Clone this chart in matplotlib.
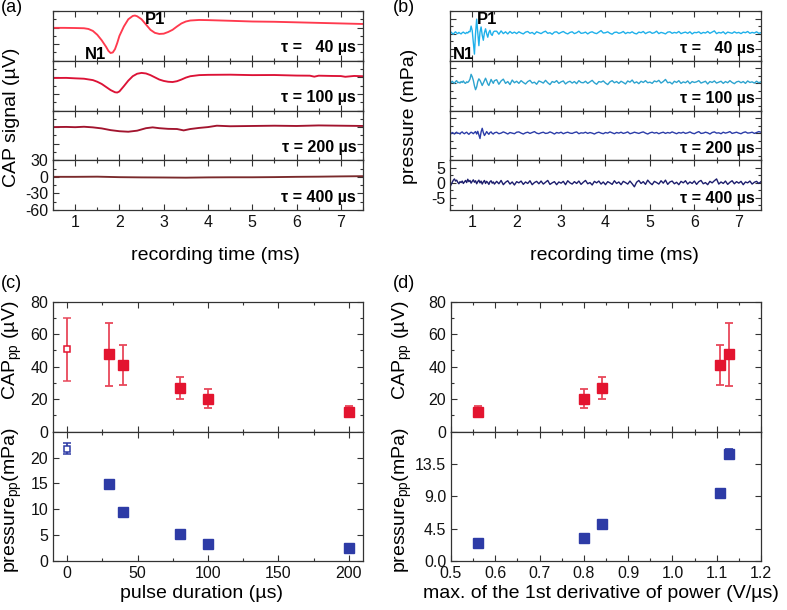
import numpy as np
import matplotlib
matplotlib.use("Agg")
import matplotlib.pyplot as plt
from matplotlib.ticker import MultipleLocator, FormatStrFormatter

plt.rcParams["font.family"] = ["Liberation Sans", "DejaVu Sans"]
plt.rcParams["mathtext.default"] = "regular"
plt.rcParams["axes.unicode_minus"] = False

# ---- (a) CAP traces (µV) ----
a40_t = [0.5, 0.75, 1.0, 1.2, 1.3, 1.4, 1.5, 1.6, 1.7, 1.75, 1.8, 1.85, 1.9, 1.95, 2.0,
         2.1, 2.2, 2.3, 2.35, 2.4, 2.5, 2.6, 2.7, 2.8, 2.9, 3.0, 3.1, 3.2, 3.3, 3.4, 3.5,
         3.6, 3.8, 4.0, 4.5, 5.0, 5.5, 6.0, 6.5, 7.0, 7.5]
a40_v = [-0.5, -0.5, -0.8, -1.2, -2.5, -6, -13, -23, -35, -42, -46, -45, -39, -28, -15,
         2, 15, 21, 21.8, 20.5, 15, 5.5, -4, -9.5, -11.5, -11, -8, -4, 2, 7.5, 11,
         12.8, 13.8, 13.5, 12.3, 11, 10.5, 9.5, 8.5, 7.5, 6.5]

a100_t = [0.5, 0.8, 1.0, 1.2, 1.4, 1.5, 1.6, 1.7, 1.8, 1.9, 1.95, 2.0, 2.1, 2.2, 2.3, 2.4,
          2.5, 2.6, 2.7, 2.8, 2.9, 3.0, 3.1, 3.2, 3.3, 3.4, 3.5, 3.6, 3.8, 4.0, 4.5, 5.0,
          5.5, 6.0, 6.3, 6.4, 6.5, 6.8, 7.0, 7.1, 7.3, 7.5]
a100_v = [-1.2, -1.0, -1.8, -2.5, -5, -8, -12, -17.5, -23, -27, -27.5, -25.5, -16, -6, 2, 6.5,
          8, 7, 4, 0, -4, -6.5, -8, -8.5, -7, -4, -0.5, 2, 4, 4.5, 4.8, 4.0,
          4.2, 3.2, 3.0, 1.2, 3.0, 2.5, 2.3, 1.0, 2.5, 2.0]

a200_t = [0.5, 0.8, 1.0, 1.2, 1.4, 1.6, 1.8, 2.0, 2.2, 2.4, 2.6, 2.75, 2.9, 3.1, 3.3, 3.45,
          3.6, 3.8, 4.0, 4.2, 4.5, 5.0, 5.5, 6.0, 6.5, 7.0, 7.5]
a200_v = [0, 0.3, -0.2, 0.6, -0.5, -2.4, -5.5, -7.5, -8.4, -6.5, -2, -0.5, -2, -3.2, -3.5, -6,
          -3.5, -1.5, 0, 2.5, 1.5, 2.0, 2.5, 2.0, 3.0, 2.5, 2.0]

a400_t = [0.5, 1.0, 1.5, 2.0, 2.5, 3.0, 3.5, 4.0, 4.5, 5.0, 5.5, 6.0, 6.5, 7.0, 7.5]
a400_v = [0, 0, 0.3, -0.6, -1.0, -1.2, -1.5, -1.0, -0.8, -0.8, -0.5, 0, 0.3, 0.8, 1.2]

# ---- (b) pressure traces (mPa) ----
# samples every 0.025 ms from 0.5 to 1.5 ms, then every 0.05 ms up to 7.5 ms
t_fine = np.round(np.arange(0.5, 1.5001, 0.025), 3)
t_coarse = np.round(np.arange(1.55, 7.5001, 0.05), 3)
b_t = np.concatenate([t_fine, t_coarse])

b40_v = [0.2, 0.5, 0.1, -0.2, 0.3, 0.6, 0.2, 0.0, 0.4, 0.1,
         -0.1, 0.3, 0.5, 0.2, 0.0, 0.4, 0.2, 0.7, 0.6, 2.5,
         1.0, -3.0, -6.8, 0.0, 4.8, 0.5, -4.0, 0.5, 2.2, -0.5,
         -2.2, 0.3, 1.6, 0.0, -1.2, 0.4, 1.1, -0.2, -0.6, 0.5,
         0.8,
         0.8, -0.2, 0.9, 0.0, 0.6, -0.1, 0.7, 0.1, 0.5, 0.0,
         0.6, 0.2, -0.1, 0.5, 0.7, 0.1, 0.4, -0.2, 0.6, 0.3,
         0.0, 0.5, 0.8, 0.1, 0.3, -0.2, 0.5, 0.6, 0.0, 0.4,
         0.7, 0.2, -0.1, 0.4, 0.6, 0.0, 0.3, 0.8, 0.1, 0.2,
         0.5, -0.1, 0.4, 0.6, 0.2, 0.0, 0.5, 1.0, 0.2, 0.3,
         0.6, 0.1, -0.2, 0.4, 0.5, 0.1, 0.3, 0.7, 0.0, 0.4,
         0.2, 0.6, 0.1, -0.1, 0.5, 0.3, 0.7, 0.0, 0.4, 0.6,
         0.1, 0.3, 0.8, 0.0, 0.4, 0.2, -0.1, 0.5, 0.6, 0.1,
         0.4, 0.2, 0.7, 0.0, 0.3, 0.5, 0.1, 0.6, -0.1, 0.4,
         0.3, 0.6, 0.0, 0.4, 0.2, 0.7, 0.1, 0.5, 0.9, 0.0,
         0.4, 0.2, 0.6, -0.1, 0.5, 0.3, 0.1, 0.6, 0.2, 0.4,
         0.0, 0.5, 0.3, 0.7, 0.1, 0.4, 0.2, 0.6, 0.1, 0.3]

b100_v = [0.5, 0.2, 0.7, 0.3, 0.0, 0.6, 0.9, 0.2, 0.4, 0.1,
          0.6, 0.3, 0.8, 0.2, 0.0, 0.5, 0.3, 0.7, 1.4, 3.0,
          2.2, 1.0, -0.8, -2.1, -1.2, 0.6, 1.5, 1.0, 0.2, -0.7,
          0.1, 0.9, 1.7, 0.8, -0.2, -0.7, 0.3, 1.3, 0.6, 0.0,
          0.9,
          1.2, -0.3, 0.8, 1.4, 0.0, 0.6, -0.4, 1.1, 0.2, 0.7,
          0.0, 0.9, 0.3, -0.2, 0.6, 1.0, 0.1, 0.4, -0.3, 0.8,
          0.5, 0.1, 1.0, 0.2, -0.4, 0.6, 0.3, 0.9, 0.0, 0.5,
          0.8, -0.2, 0.4, 0.7, 0.1, 0.6, -0.1, 0.9, 0.3, 0.2,
          0.7, 0.0, 0.5, 1.0, 0.2, -0.3, 0.6, 0.4, 0.8, 0.1,
          -0.4, 0.5, 0.9, 0.2, 0.6, 0.0, 0.7, 0.3, -0.2, 0.8,
          0.4, 1.1, 0.1, 0.5, -0.1, 0.7, 0.3, 0.9, 0.2, 0.4,
          0.0, 0.8, 0.5, 1.0, 0.1, 0.6, 1.3, 0.2, 0.4, -0.2,
          0.7, 0.3, 0.9, 0.0, 0.5, 0.2, 0.8, -0.1, 0.6, 0.3,
          0.5, 0.9, 0.1, 0.4, 0.7, -0.2, 0.6, 0.3, 0.8, 0.1,
          0.4, 0.7, 0.0, 0.6, 0.2, 0.9, 0.3, -0.1, 0.5, 0.7,
          0.2, 0.6, 0.0, 0.8, 0.3, 0.5, 0.1, 0.7, 0.2, 0.5]

b200_v = [0.0, -0.2, 0.2, 0.0, -0.3, 0.1, 0.3, -0.1, 0.0, -0.3,
          0.2, 0.4, 0.0, -0.2, 0.1, 0.3, -0.1, -0.4, 0.0, 0.3,
          0.1, -0.2, 0.2, 0.5, -0.3, 0.6, -0.6, -1.8, 0.4, 1.6,
          0.2, -0.8, -0.2, 0.5, 0.0, -0.4, 0.2, 0.4, -0.1, -0.3,
          0.1,
          0.3, -0.2, 0.0, 0.4, 0.1, -0.3, 0.2, 0.0, -0.2, 0.3,
          0.4, 0.0, -0.3, 0.1, 0.3, -0.1, 0.2, 0.5, 0.0, -0.2,
          0.1, 0.3, -0.1, 0.0, 0.4, 0.1, -0.3, 0.2, 0.0, 0.3,
          -0.2, 0.1, 0.3, 0.0, -0.1, 0.2, 0.4, -0.2, 0.1, 0.0,
          0.3, -0.1, 0.2, 0.0, -0.3, 0.1, 0.3, 0.0, -0.2, 0.2,
          0.0, 0.4, 0.1, -0.2, 0.2, 0.0, 0.3, -0.1, 0.1, 0.4,
          -0.2, 0.0, 0.3, 0.1, -0.1, 0.2, 0.4, 0.0, -0.3, 0.1,
          0.3, 0.0, 0.2, -0.2, 0.1, 0.3, -0.1, 0.2, 0.0, 0.4,
          0.1, -0.2, 0.2, 0.0, 0.3, -0.1, 0.1, 0.4, 0.0, -0.2,
          0.2, 0.5, -0.1, 0.0, 0.3, 0.1, -0.3, 0.2, 0.4, 0.0,
          0.1, -0.2, 0.3, 0.0, 0.2, 0.5, -0.1, 0.1, 0.3, 0.0,
          -0.2, 0.2, 0.4, 0.0, 0.1, 0.3, -0.1, 0.2, 0.5, 0.3]

b400_v = [-1.3, -0.6, 0.2, 0.9, 1.3, 0.6, 0.9, 0.2, -0.3, 0.4,
          0.1, 0.6, -0.2, 0.3, 0.8, 0.1, 1.2, 0.4, 0.8, -0.1,
          0.5, 1.0, 0.2, 0.7, -0.3, 0.4, 0.9, 0.0, 0.6, -0.4,
          0.3, 0.8, -0.2, 0.5, 0.1, -0.5, 0.4, 0.7, -0.1, 0.3,
          -0.4,
          0.5, -0.3, 0.8, -0.6, 0.2, 0.7, -0.4, 0.3, -0.7, 0.4,
          0.0, 0.6, -0.5, 0.3, -0.2, 0.7, -0.6, 0.1, 0.5, -0.3,
          0.6, -0.4, 0.2, 0.8, -0.5, 0.0, 0.4, -0.6, 0.3, -0.1,
          0.5, -0.6, 0.7, 0.0, -0.4, 0.4, -0.2, 0.6, -0.5, 0.2,
          0.8, -0.3, 0.1, -0.7, 0.5, 0.0, 0.6, -0.4, 0.3, -0.6,
          0.4, 0.0, -0.5, 0.7, -0.2, 0.3, -0.6, 0.5, 0.1, -0.4,
          0.6, -0.3, -1.3, 0.2, 0.8, -0.2, 0.4, -0.5, 0.9, 0.0,
          -0.6, 0.5, 0.1, -0.4, 0.7, -0.1, 0.9, -0.5, 0.3, 0.6,
          -0.3, 0.2, -0.6, 0.5, 0.0, 0.7, -0.4, 0.3, -0.2, 0.6,
          -0.5, 0.4, 0.8, -0.3, 0.1, -0.6, 0.5, 0.0, 0.7, 1.3,
          -0.4, 0.3, -0.2, 0.6, -0.5, 0.2, 0.7, -0.3, 0.4, -0.1,
          0.5, -0.6, 0.3, 0.0, 0.6, -0.4, 0.2, 0.5, -0.2, 0.4]

tau_labels = ["τ =   40 µs", "τ = 100 µs", "τ = 200 µs", "τ = 400 µs"]

# ---- (c)/(d) peak-to-peak values ----
pulse_us = [30, 40, 80, 100, 200]
cap_pp = [47.7, 41.0, 26.6, 20.1, 12.3]
cap_lo = [28.3, 28.9, 19.9, 14.3, 9.0]
cap_hi = [67.2, 53.2, 33.8, 26.0, 15.6]
press_pp = [14.95, 9.4, 5.15, 3.24, 2.5]
press_err = [0.6, 0.3, 0.3, 0.2, 0.2]
deriv_max = [1.128, 1.107, 0.84, 0.80, 0.56]
# reference point at 0 µs (open symbols)
ref_us = [0]
ref_cap = [50.8]
ref_cap_lo = [31.5]
ref_cap_hi = [70.2]
ref_press = [21.7]
ref_press_err = [1.1]

RED = "#e3142f"
RED_ERR = "#e8485a"
BLUE = "#2d3ba6"
a_colors = ["#ff3a4e", "#dc1236", "#a2142e", "#7a2a2c"]
b_colors = ["#1eb0ea", "#2ca3cf", "#2b3ca8", "#1c1d6c"]

W, H = 787, 610
fig = plt.figure(figsize=(W / 100, H / 100), dpi=100)


def box(l, t, r, b):
    return [l / W, 1 - b / H, (r - l) / W, (b - t) / H]


def style(ax):
    ax.tick_params(which="both", direction="in", top=True, right=True,
                   labelsize=11.5, width=0.8, color="#333333", labelcolor="#111111")
    ax.tick_params(which="major", length=4)
    ax.tick_params(which="minor", length=2.5)
    for s in ax.spines.values():
        s.set_linewidth(0.9)
        s.set_color("#333333")


# (a) stacked CAP traces
a_traces = [(a40_t, a40_v), (a100_t, a100_v), (a200_t, a200_v), (a400_t, a400_v)]
top, bot = 11, 210
h = (bot - top) / 4
for i, (t, v) in enumerate(a_traces):
    ax = fig.add_axes(box(53, top + i * h, 363, top + (i + 1) * h))
    ax.plot(t, v, color=a_colors[i], lw=1.35)
    ax.set_xlim(0.5, 7.5)
    ax.set_ylim(-60, 30)
    ax.xaxis.set_major_locator(MultipleLocator(1))
    ax.xaxis.set_minor_locator(MultipleLocator(0.5))
    ax.yaxis.set_major_locator(MultipleLocator(30))
    ax.yaxis.set_minor_locator(MultipleLocator(15))
    style(ax)
    if i < 3:
        ax.tick_params(labelbottom=False, labelleft=False)
    ax.text(0.978, 0.26, tau_labels[i], transform=ax.transAxes, ha="right",
            va="center", fontsize=11.5, fontweight="bold")
    if i == 0:
        ax.text(1.47, -49, "N1", ha="center", va="center", fontsize=12, fontweight="bold")
        ax.text(2.8, 14, "P1", ha="center", va="center", fontsize=12, fontweight="bold")

# (b) stacked pressure traces
b_traces = [b40_v, b100_v, b200_v, b400_v]
for i, v in enumerate(b_traces):
    ax = fig.add_axes(box(450, top + i * h, 761, top + (i + 1) * h))
    ax.plot(b_t, v, color=b_colors[i], lw=1.0)
    ax.set_xlim(0.5, 7.5)
    ax.set_ylim(-9, 7.5)
    ax.xaxis.set_major_locator(MultipleLocator(1))
    ax.xaxis.set_minor_locator(MultipleLocator(0.5))
    ax.yaxis.set_major_locator(MultipleLocator(5))
    ax.yaxis.set_minor_locator(MultipleLocator(2.5))
    style(ax)
    if i < 3:
        ax.tick_params(labelbottom=False, labelleft=False)
    ax.text(0.98, 0.24, tau_labels[i], transform=ax.transAxes, ha="right",
            va="center", fontsize=11.5, fontweight="bold")
    if i == 0:
        ax.text(0.8, -6.8, "N1", ha="center", va="center", fontsize=12, fontweight="bold")
        ax.text(1.33, 4.8, "P1", ha="center", va="center", fontsize=12, fontweight="bold")

# (c) and (d)
ups, lows = [], []
for l, r in [(53, 363), (451, 761)]:
    ups.append(fig.add_axes(box(l, 301.7, r, 431.7)))
    lows.append(fig.add_axes(box(l, 431.7, r, 561)))

cap_err = [np.array(cap_pp) - np.array(cap_lo), np.array(cap_hi) - np.array(cap_pp)]
ref_err = [np.array(ref_cap) - np.array(ref_cap_lo), np.array(ref_cap_hi) - np.array(ref_cap)]

for k, xs in enumerate([pulse_us, deriv_max]):
    ax = ups[k]
    ax.errorbar(xs, cap_pp, yerr=cap_err, fmt="s", ms=6.5, color=RED, ecolor=RED_ERR,
                elinewidth=1.3, capsize=3, capthick=1.3, mec=RED)
    ax.set_ylim(0, 80)
    ax.yaxis.set_major_locator(MultipleLocator(20))
    ax.yaxis.set_minor_locator(MultipleLocator(10))

    axl = lows[k]
    axl.errorbar(xs, press_pp, yerr=press_err, fmt="s", ms=6.5, color=BLUE, ecolor=BLUE,
                 elinewidth=1.2, capsize=3, capthick=1.2, mec=BLUE)

ups[0].errorbar(ref_us, ref_cap, yerr=ref_err, fmt="s", ms=5, mfc="white", mec=RED, mew=1.1,
                ecolor=RED_ERR, elinewidth=1.3, capsize=3, capthick=1.3)
lows[0].errorbar(ref_us, ref_press, yerr=ref_press_err, fmt="s", ms=5, mfc="white", mec=BLUE,
                 mew=1.1, ecolor=BLUE, elinewidth=1.2, capsize=3, capthick=1.2)

for ax in [ups[0], lows[0]]:
    ax.set_xlim(-10, 210)
    ax.xaxis.set_major_locator(MultipleLocator(50))
    ax.xaxis.set_minor_locator(MultipleLocator(25))
for ax in [ups[1], lows[1]]:
    ax.set_xlim(0.5, 1.2)
    ax.xaxis.set_major_locator(MultipleLocator(0.1))
    ax.xaxis.set_minor_locator(MultipleLocator(0.05))
    ax.xaxis.set_major_formatter(FormatStrFormatter("%.1f"))

lows[0].set_ylim(0, 25)
lows[0].set_yticks([0, 5, 10, 15, 20])
lows[1].set_ylim(0, 18)
lows[1].set_yticks([0, 4.5, 9, 13.5])
lows[1].yaxis.set_major_formatter(FormatStrFormatter("%.1f"))

for ax in ups + lows:
    style(ax)
for ax in ups:
    ax.tick_params(labelbottom=False)

# labels
fs = 14
fig.text(215 / W, 1 - 255 / H, "recording time (ms)", ha="center", va="center", fontsize=fs)
fig.text(614 / W, 1 - 255 / H, "recording time (ms)", ha="center", va="center", fontsize=fs)
fig.text(12 / W, 1 - 117 / H, "CAP signal (µV)", rotation=90, ha="center", va="center", fontsize=fs)
fig.text(409 / W, 1 - 116 / H, "pressure (mPa)", rotation=90, ha="center", va="center", fontsize=fs)

fig.text(202 / W, 1 - 593 / H, "pulse duration (µs)", ha="center", va="center", fontsize=fs)
fig.text(601 / W, 1 - 593 / H, "max. of the 1st derivative of power (V/µs)", ha="center",
         va="center", fontsize=fs)
for x in [12, 402]:
    fig.text(x / W, 1 - 350 / H, "CAP$_{pp}$ (µV)", rotation=90, ha="center", va="center", fontsize=fs)
    fig.text(x / W, 1 - 500 / H, "pressure$_{pp}$(mPa)", rotation=90, ha="center", va="center", fontsize=fs)

for lab, x, y in [("(a)", 1, 8), ("(b)", 393, 8), ("(c)", 1, 283), ("(d)", 393, 283)]:
    fig.text(x / W, 1 - y / H, lab, ha="left", va="center", fontsize=13)

fig.savefig("out.png", dpi=100)
